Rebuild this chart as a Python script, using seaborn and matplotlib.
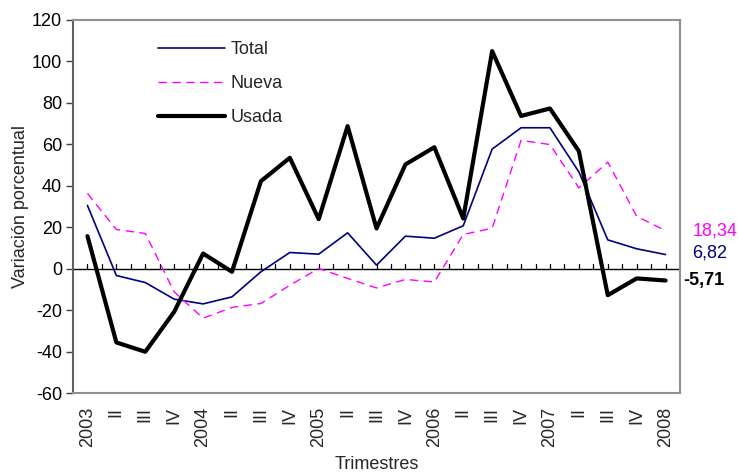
import numpy as np
import pandas as pd
import matplotlib
matplotlib.use("Agg")
import matplotlib.pyplot as plt
import seaborn as sns

# Quarter labels (2003 Q1 .. 2008 Q1)
trimestres = ["2003", "II", "III", "IV",
              "2004", "II", "III", "IV",
              "2005", "II", "III", "IV",
              "2006", "II", "III", "IV",
              "2007", "II", "III", "IV",
              "2008"]

total = [30.5, -3.3, -6.7, -14.7, -17.0, -13.6, -1.5, 7.8, 7.0, 17.3, 1.7, 15.7,
         14.7, 20.7, 57.7, 68.0, 68.0, 46.7, 13.9, 9.6, 6.82]
nueva = [36.3, 18.9, 17.0, -11.2, -23.9, -18.7, -16.8, -8.0, 0.1, -4.7, -9.3, -5.2,
         -6.4, 16.5, 19.5, 61.9, 59.9, 39.0, 51.4, 25.3, 18.34]
usada = [15.7, -35.6, -40.1, -20.8, 7.3, -1.5, 42.2, 53.5, 23.9, 68.8, 19.4, 50.3,
         58.6, 24.2, 105.0, 73.7, 77.3, 56.7, -12.8, -4.7, -5.71]

series_names = ["Total", "Nueva", "Usada"]

sns.set_style("white")
plt.rcParams["font.family"] = ["Liberation Sans", "DejaVu Sans"]
plt.rcParams["axes.unicode_minus"] = False

FS = 13

idx = np.arange(len(trimestres))
df = pd.DataFrame({
    "pos": np.tile(idx, 3),
    "valor": total + nueva + usada,
    "serie": np.repeat(series_names, len(trimestres)),
})

fig = plt.figure(figsize=(7.39, 4.75), dpi=100)
ax = fig.add_axes([0.0988, 0.1726, 0.8214, 0.7853])

styles = {
    "Total": dict(color="#000080", lw=1.2, ls="-"),
    "Nueva": dict(color="#FF00FF", lw=1.0, ls=(0, (6, 4))),
    "Usada": dict(color="black", lw=3.0, ls="-"),
}

# zero reference line with small category ticks
ax.axhline(0, color="black", lw=1.0, zorder=1)
for x in np.arange(0, 20.01, 0.5):
    ax.plot([x, x], [0, 2.2], color="black", lw=0.9, zorder=1)

for name in series_names:
    st = styles[name]
    sns.lineplot(data=df[df["serie"] == name], x="pos", y="valor", ax=ax,
                 color=st["color"], linewidth=st["lw"], linestyle=st["ls"],
                 label=name, zorder=3)

ax.set_xlim(-0.5, 20.5)
ax.set_ylim(-60, 120)
ax.set_yticks(np.arange(-60, 121, 20))
ax.set_xticks(idx)
ax.set_xticklabels(trimestres, rotation=90, fontsize=FS)
ax.tick_params(axis="x", length=0, pad=10)
ax.tick_params(axis="y", direction="out", length=5, width=1, colors="#404040",
               labelcolor="black", labelsize=FS, left=True, pad=3)

for side in ["top", "right", "bottom"]:
    ax.spines[side].set_color("#909090")
    ax.spines[side].set_linewidth(1.5)
ax.spines["left"].set_color("#606060")
ax.spines["left"].set_linewidth(1.5)

ax.set_xlabel("Trimestres", fontsize=FS, labelpad=6)
ax.set_ylabel("Variación porcentual", fontsize=FS, labelpad=2)

leg = ax.legend(loc="upper left", bbox_to_anchor=(0.14, 0.944), frameon=False,
                fontsize=FS, handlelength=3.7, labelspacing=0.95,
                handletextpad=0.3, borderaxespad=0, borderpad=0)

# end-of-series value labels
ax.annotate("18,34", xy=(1.0, nueva[-1]), xycoords=("axes fraction", "data"),
            xytext=(9, 0), textcoords="offset points", color="#FF00FF",
            fontsize=FS, va="center")
ax.annotate("6,82", xy=(1.0, total[-1]), xycoords=("axes fraction", "data"),
            xytext=(9, 1), textcoords="offset points", color="#000080",
            fontsize=FS, va="center")
ax.annotate("-5,71", xy=(1.0, usada[-1]), xycoords=("axes fraction", "data"),
            xytext=(2.5, 0), textcoords="offset points", color="black",
            fontsize=FS, fontweight="bold", va="center")

fig.savefig("out.png", dpi=100)
